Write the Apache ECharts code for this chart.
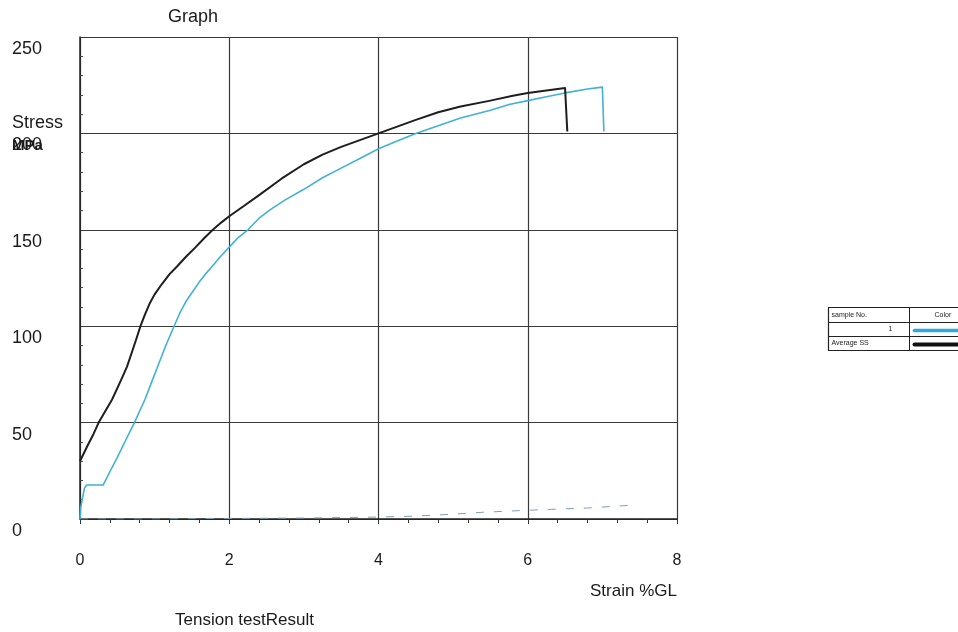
<!DOCTYPE html>
<html>
<head>
<meta charset="utf-8">
<script src="https://cdn.jsdelivr.net/npm/echarts@6/dist/echarts.min.js"></script>
<style>
  html, body { margin: 0; padding: 0; background: #fff; }
  #chart { width: 958px; height: 632px; }
</style>
</head>
<body>
<div id="chart"></div>
<script>
// average SS curve (black)
const avgStrain = [0, 0.05, 0.1, 0.18, 0.25, 0.34, 0.43, 0.55, 0.63, 0.7, 0.76, 0.81, 0.87, 0.93, 1.0, 1.1, 1.2, 1.3, 1.42, 1.55, 1.66, 1.78, 1.9, 2.0, 2.2, 2.4, 2.7, 3.0, 3.25, 3.5, 3.75, 4.0, 4.25, 4.5, 4.8, 5.1, 5.5, 5.8, 6.0, 6.3, 6.5, 6.52, 6.53]
const avgStress = [30, 34, 38, 44, 50, 56, 62, 72, 79, 87, 94, 100, 106, 111.5, 116.5, 122, 127, 131, 136, 141, 145.5, 150, 154, 157, 162.5, 168, 176.5, 184, 189, 193, 196.5, 200, 203.5, 207, 211, 214, 217, 219.5, 221, 222.5, 223.5, 223.5, 201]

// sample No.1 (cyan)
const s1Strain = [0, 0.01, 0.03, 0.06, 0.09, 0.31, 0.4, 0.5, 0.62, 0.73, 0.8, 0.87, 0.96, 1.05, 1.15, 1.26, 1.34, 1.43, 1.52, 1.6, 1.68, 1.77, 1.88, 2.0, 2.12, 2.25, 2.4, 2.55, 2.75, 3.0, 3.25, 3.5, 3.75, 4.0, 4.25, 4.5, 4.8, 5.1, 5.5, 5.75, 6.0, 6.25, 6.5, 6.8, 7.0, 7.02]
const s1Stress = [0, 6, 10, 16, 17.6, 17.6, 24.5, 32, 41.5, 50, 56, 62, 71, 80, 90, 100, 107, 113.5, 118.5, 123, 127, 131, 136, 141, 146, 150, 156, 160.5, 165.5, 171, 177, 182, 187, 192, 196, 200, 204, 208, 212, 215, 217, 219, 221, 223, 224, 201]

// faint dashed trace near the bottom
const dashStrain = [0, 1, 2, 3, 4, 4.5, 5.0, 5.4, 6.1, 6.8, 7.4]
const dashStress = [0, 0, 0.3, 0.5, 1, 1.5, 2.5, 3.5, 4.7, 5.7, 7.2]

const xTicks = [0, 2, 4, 6, 8]
const yTicks = [0, 50, 100, 150, 200, 250]

const pairs = (xs, ys) => xs.map((x, i) => [x, ys[i]])

const font = 'Liberation Sans, Arial, sans-serif'
const chart = echarts.init(document.getElementById('chart'))

const option = {
  backgroundColor: '#fff',
  animation: false,
  grid: { left: 80, right: 281, top: 37, bottom: 113 },
  xAxis: {
    type: 'value',
    min: xTicks[0],
    max: xTicks[xTicks.length - 1],
    interval: 2,
    axisLine: { show: true, lineStyle: { color: '#222', width: 1.5 } },
    axisTick: { show: true, length: 5, lineStyle: { color: '#333' } },
    minorTick: { show: true, splitNumber: 5, length: 4, lineStyle: { color: '#333' } },
    splitLine: { show: true, lineStyle: { color: '#3a3a3a', width: 1.2 } },
    axisLabel: { color: '#1a1a1a', fontSize: 16, fontFamily: font, margin: 34 }
  },
  yAxis: {
    type: 'value',
    min: yTicks[0],
    max: yTicks[yTicks.length - 1],
    interval: 50,
    axisLine: { show: true, lineStyle: { color: '#222', width: 1.5 } },
    axisTick: { show: false, inside: true },
    minorTick: { show: true, splitNumber: 5, length: 3, lineStyle: { color: '#444' } },
    splitLine: { show: true, lineStyle: { color: '#3a3a3a', width: 1.2 } },
    axisLabel: {
      color: '#1a1a1a', fontSize: 18, fontFamily: font,
      align: 'left', margin: 68, verticalAlign: 'top', padding: [3, 0, 0, 0]
    }
  },
  series: [
    {
      name: 'dash',
      type: 'line',
      data: pairs(dashStrain, dashStress),
      showSymbol: false,
      lineStyle: { color: '#7d9fb5', width: 1, type: [8, 10] },
      z: 1
    },
    {
      name: '1',
      type: 'line',
      data: pairs(s1Strain, s1Stress),
      showSymbol: false,
      lineStyle: { color: '#3fb2d6', width: 1.6, join: 'round' },
      z: 2
    },
    {
      name: 'Average SS',
      type: 'line',
      data: pairs(avgStrain, avgStress),
      showSymbol: false,
      lineStyle: { color: '#1e1e1e', width: 2, join: 'round' },
      z: 3
    }
  ],
  graphic: [
    { type: 'text', left: 168, top: 8, style: { text: 'Graph', font: '18px ' + font, fill: '#1a1a1a' } },
    { type: 'text', left: 12, top: 114, style: { text: 'Stress', font: '18px ' + font, fill: '#1a1a1a' } },
    { type: 'text', left: 12, top: 138, style: { text: 'MPa', font: 'bold 15px ' + font, fill: '#1a1a1a' } },
    { type: 'text', left: 590, top: 583, style: { text: 'Strain %GL', font: '17px ' + font, fill: '#1a1a1a' } },
    { type: 'text', left: 175, top: 612, style: { text: 'Tension testResult', font: '17px ' + font, fill: '#1a1a1a' } },
    // legend table
    {
      type: 'group', left: 826, top: 305,
      children: [
        { type: 'rect', shape: { x: 0, y: 0, width: 140, height: 43 }, style: { fill: '#fff', stroke: '#222', lineWidth: 1.2 } },
        { type: 'line', shape: { x1: 0, y1: 15, x2: 140, y2: 15 }, style: { stroke: '#222', lineWidth: 1 } },
        { type: 'line', shape: { x1: 0, y1: 29, x2: 140, y2: 29 }, style: { stroke: '#222', lineWidth: 1 } },
        { type: 'line', shape: { x1: 81, y1: 0, x2: 81, y2: 43 }, style: { stroke: '#222', lineWidth: 1 } },
        { type: 'text', x: 3, y: 4, style: { text: 'sample No.', font: '7px ' + font, fill: '#222' } },
        { type: 'text', x: 106, y: 4, style: { text: 'Color', font: '7px ' + font, fill: '#222' } },
        { type: 'text', x: 60, y: 18, style: { text: '1', font: '7px ' + font, fill: '#222' } },
        { type: 'text', x: 3, y: 32, style: { text: 'Average SS', font: '7px ' + font, fill: '#222' } },
        { type: 'line', shape: { x1: 86, y1: 23, x2: 140, y2: 23 }, style: { stroke: '#29a9e0', lineWidth: 3.5, lineCap: 'round' } },
        { type: 'line', shape: { x1: 86, y1: 37, x2: 140, y2: 37 }, style: { stroke: '#111', lineWidth: 4, lineCap: 'round' } }
      ]
    }
  ]
}

chart.setOption(option)
window.addEventListener('resize', () => chart.resize())
</script>
</body>
</html>
